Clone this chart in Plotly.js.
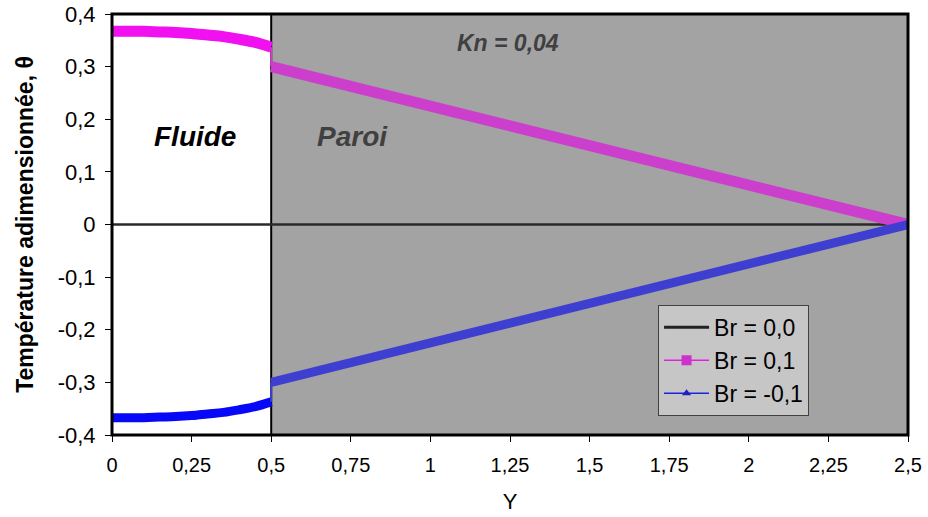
<!DOCTYPE html>
<html><head><meta charset="utf-8">
<script src="https://cdn.plot.ly/plotly-3.0.1.min.js"></script>
<style>html,body{margin:0;padding:0;background:#fff}#chart{width:928px;height:517px}</style>
</head><body><div id="chart"></div>
<script>
// Fluid region (0 <= Y <= 0.5)
const xFluid = [0, 0.05, 0.1, 0.15, 0.2, 0.25, 0.3, 0.35, 0.4, 0.45, 0.5];
const yFluidBrPos = [0.367, 0.367, 0.367, 0.366, 0.365, 0.363, 0.360, 0.357, 0.352, 0.346, 0.337];
const yFluidBrNeg = [-0.367, -0.367, -0.367, -0.366, -0.365, -0.363, -0.360, -0.357, -0.352, -0.346, -0.337];
// Wall region (0.5 <= Y <= 2.5)
const xWall = [0.5, 2.5];
const yWallBrPos = [0.300, 0.0];
const yWallBrNeg = [-0.300, 0.0];
// Br = 0
const xZero = [0, 2.5];
const yZero = [0, 0];
// Ticks
const xTickVals = [0, 0.25, 0.5, 0.75, 1, 1.25, 1.5, 1.75, 2, 2.25, 2.5];
const xTickText = ["0", "0,25", "0,5", "0,75", "1", "1,25", "1,5", "1,75", "2", "2,25", "2,5"];
const yTickVals = [-0.4, -0.3, -0.2, -0.1, 0, 0.1, 0.2, 0.3, 0.4];
const yTickText = ["-0,4", "-0,3", "-0,2", "-0,1", "0", "0,1", "0,2", "0,3", "0,4"];
const seriesNames = ["Br = 0,0", "Br = 0,1", "Br = -0,1"];

const magFluid = '#f010f0', magWall = '#cc3fcc';
const bluFluid = '#0808f8', bluWall = '#3e3ed0';

const traces = [
  {x: xZero, y: yZero, mode: 'lines', line: {color: '#2a2a2a', width: 2.5}, showlegend: false, hoverinfo: 'skip'},
  {x: xFluid, y: yFluidBrPos, mode: 'lines', line: {color: magFluid, width: 11, shape: 'spline'}, showlegend: false},
  {x: [xFluid[xFluid.length-1], xWall[0]], y: [yFluidBrPos[yFluidBrPos.length-1], yWallBrPos[0]], mode: 'lines', line: {color: magWall, width: 2}, showlegend: false},
  {x: xWall, y: yWallBrPos, mode: 'lines', line: {color: magWall, width: 11}, showlegend: false},
  {x: xFluid, y: yFluidBrNeg, mode: 'lines', line: {color: bluFluid, width: 9, shape: 'spline'}, showlegend: false},
  {x: [xFluid[xFluid.length-1], xWall[0]], y: [yFluidBrNeg[yFluidBrNeg.length-1], yWallBrNeg[0]], mode: 'lines', line: {color: bluWall, width: 2}, showlegend: false},
  {x: xWall, y: yWallBrNeg, mode: 'lines', line: {color: bluWall, width: 9}, showlegend: false},
  {x: [null], y: [null], name: seriesNames[0], mode: 'lines', line: {color: '#222', width: 3}},
  {x: [null], y: [null], name: seriesNames[1], mode: 'lines+markers', line: {color: '#e020e0', width: 1.5}, marker: {symbol: 'square', size: 10, color: '#cc33cc'}},
  {x: [null], y: [null], name: seriesNames[2], mode: 'lines+markers', line: {color: '#2020e0', width: 1.5}, marker: {symbol: 'triangle-up', size: 8, color: '#2020c0'}}
];

const layout = {
  width: 928, height: 517,
  margin: {l: 112, r: 20, t: 14, b: 82},
  paper_bgcolor: '#fff', plot_bgcolor: '#fff',
  font: {family: 'Arial, Liberation Sans, sans-serif', color: '#000'},
  xaxis: {
    range: [0, 2.5], tickvals: xTickVals, ticktext: xTickText,
    ticks: 'outside', ticklen: 6, tickcolor: '#000', showgrid: false, zeroline: false,
    tickfont: {size: 20}, ticklabelstandoff: 6,
    title: {text: 'Y', font: {size: 22}, standoff: 18},
    showline: false
  },
  yaxis: {
    range: [-0.4, 0.4], tickvals: yTickVals, ticktext: yTickText,
    ticks: 'outside', ticklen: 6, tickcolor: '#000', showgrid: false, zeroline: false,
    tickfont: {size: 22}, ticklabelstandoff: 5,
    title: {text: 'Température adimensionnée, θ', font: {size: 23, weight: 'bold'}, standoff: 17},
    showline: false
  },
  shapes: [
    {type: 'rect', xref: 'x', yref: 'y', x0: 0.5, x1: 2.5, y0: -0.4, y1: 0.4, fillcolor: '#a3a3a3', line: {color: '#000', width: 2}, layer: 'below'},
    {type: 'rect', xref: 'paper', yref: 'paper', x0: 0, x1: 1, y0: 0, y1: 1, line: {color: '#000', width: 3}, layer: 'above'}
  ],
  annotations: [
    {x: 0.26, y: 0.167, xref: 'x', yref: 'y', text: '<b><i>Fluide</i></b>', showarrow: false, font: {size: 28, color: '#000'}},
    {x: 0.755, y: 0.167, xref: 'x', yref: 'y', text: '<b><i>Paroi</i></b>', showarrow: false, font: {size: 28, color: '#404040'}},
    {x: 1.245, y: 0.345, xref: 'x', yref: 'y', text: '<b><i>Kn = 0,04</i></b>', showarrow: false, font: {size: 23, color: '#404040'}}
  ],
  legend: {
    x: 0.686, y: 0.309, xanchor: 'left', yanchor: 'top',
    bgcolor: '#c6c6c6', bordercolor: '#404040', borderwidth: 1,
    font: {size: 23, color: '#000'}, itemwidth: 45, tracegroupgap: 0
  },
  showlegend: true
};

Plotly.newPlot('chart', traces, layout, {displayModeBar: false, staticPlot: true});
</script></body></html>
